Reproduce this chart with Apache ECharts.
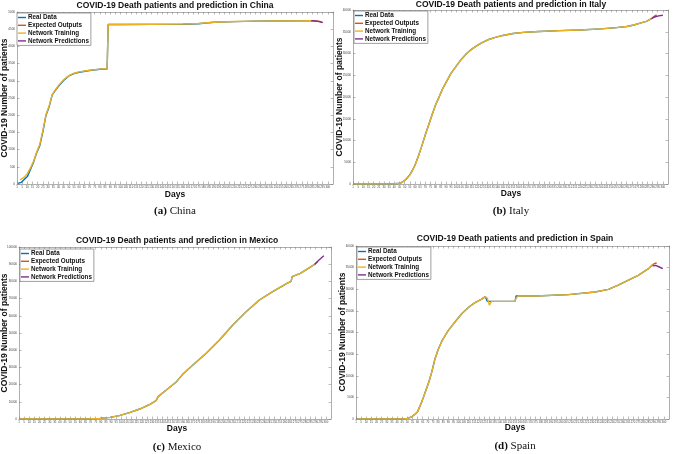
<!DOCTYPE html>
<html><head><meta charset="utf-8">
<script src="https://cdn.jsdelivr.net/npm/echarts@6/dist/echarts.min.js"></script>
<style>html,body{margin:0;padding:0;background:#fff}#c{width:675px;height:454px}</style>
</head><body><div id="c"></div>
<script>
// ---------- DATA ----------
const seriesNames = ['Real Data', 'Expected Outputs', 'Network Training', 'Network Predictions'];

// China
const chinaRealDays  = [1, 4, 7, 10, 13, 16, 19, 22, 25, 28, 31, 34, 37, 40, 45, 50, 55, 60, 70, 80, 87, 88, 100, 130, 160, 175, 190, 210, 230, 250, 270, 284];
const chinaReal      = [17, 45, 130, 215, 425, 636, 910, 1115, 1520, 2000, 2240, 2590, 2720, 2840, 3010, 3140, 3210, 3250, 3300, 3335, 3345, 4635, 4635, 4640, 4645, 4660, 4700, 4720, 4735, 4740, 4742, 4745];
const chinaTrainDays = [3, 7, 10, 13, 16, 19, 22, 25, 28, 31, 34, 37, 40, 45, 50, 55, 60, 70, 80, 87, 88, 100, 130, 160, 175, 190, 210, 230, 250, 270, 284];
const chinaTrain     = [120, 200, 300, 470, 660, 930, 1150, 1560, 2020, 2270, 2600, 2740, 2860, 3030, 3150, 3220, 3260, 3305, 3340, 3350, 4640, 4638, 4642, 4648, 4665, 4700, 4722, 4736, 4740, 4742, 4745];
const chinaExpDays   = [284, 288, 292, 295];
const chinaExp       = [4745, 4742, 4725, 4700];
const chinaPredDays  = [284, 288, 292, 295];
const chinaPred      = [4745, 4740, 4720, 4690];

// Italy
const italyRealDays  = [1, 10, 20, 30, 35, 40, 44, 47, 50, 52, 55, 57, 60, 63, 66, 70, 73, 76, 80, 83, 87, 90, 95, 100, 105, 110, 115, 120, 125, 130, 137, 145, 155, 165, 180, 200, 220, 240, 255, 265, 272, 278, 284, 289];
const italyReal      = [0, 0, 0, 20, 40, 70, 100, 300, 800, 1270, 2100, 2900, 4300, 6200, 8300, 11300, 13400, 15500, 18200, 19800, 22000, 23300, 25500, 27100, 28700, 30000, 31000, 31800, 32500, 33100, 33650, 34150, 34600, 34850, 35050, 35250, 35400, 35650, 35950, 36200, 36550, 37000, 37400, 38000];
const italyTrainDays = italyRealDays;
const italyTrain     = italyReal;
const italyExpDays   = [289, 292, 294];
const italyExp       = [38000, 38600, 38900];
const italyPredDays  = [289, 292, 296, 300];
const italyPred      = [38000, 38400, 38650, 38800];

// Mexico
const mexicoRealDays  = [1, 20, 40, 60, 70, 79, 89, 98, 108, 118, 128, 134, 136, 144, 154, 160, 170, 183, 196, 209, 222, 235, 248, 262, 266, 267, 275, 284, 289];
const mexicoReal      = [0, 0, 0, 20, 150, 390, 970, 1940, 3680, 5800, 8530, 10660, 13000, 16860, 21700, 25970, 31400, 38180, 45930, 54650, 62400, 69190, 74030, 78900, 80000, 82800, 84700, 88000, 89900];
const mexicoTrainDays = mexicoRealDays;
const mexicoTrain     = mexicoReal;
const mexicoExpDays   = [289, 292];
const mexicoExp       = [89900, 91500];
const mexicoPredDays  = [289, 293, 298];
const mexicoPred      = [89900, 92300, 94960];

// Spain
const spainRealDays  = [1, 20, 40, 46, 50, 54, 57, 60, 64, 67, 71, 74, 77, 80, 84, 90, 97, 103, 110, 116, 122, 126, 127, 128, 150, 155, 156, 175, 207, 233, 246, 255, 265, 275, 285, 289];
const spainReal      = [0, 0, 0, 10, 150, 460, 1000, 1700, 3900, 5900, 8550, 11000, 13950, 16000, 18200, 20500, 22600, 24350, 25900, 26900, 27650, 28300, 28600, 27200, 27200, 27200, 28440, 28450, 28750, 29360, 29980, 30900, 32060, 33220, 34760, 35680];
const spainTrainDays = [1, 20, 40, 46, 50, 54, 57, 60, 64, 67, 71, 74, 77, 80, 84, 90, 97, 103, 110, 116, 122, 126, 127, 128, 130, 132, 150, 155, 156, 158, 175, 207, 233, 246, 255, 265, 275, 285, 289];
const spainTrain     = [0, 0, 0, 10, 150, 460, 1000, 1700, 3900, 5900, 8550, 11000, 13950, 16000, 18200, 20500, 22600, 24350, 25900, 26900, 27650, 28300, 28600, 27900, 26300, 27200, 27200, 27200, 28000, 28440, 28450, 28750, 29360, 29980, 30900, 32060, 33220, 34760, 35680];
const spainExpDays   = [289, 291, 293];
const spainExp       = [35680, 35950, 36070];
const spainPredDays  = [289, 292, 295, 299];
const spainPred      = [35400, 35500, 35200, 34760];

// axis settings (tick labels)
const yMax = [5000, 40000, 100000, 40000];
const yStep = [500, 5000, 10000, 5000];
const xMax = 305, xStep = 5;

const countries = ['China', 'Italy', 'Mexico', 'Spain'];
const captionTags = ['(a)', '(b)', '(c)', '(d)'];

// ---------- LAYOUT ----------
const grids = [
  {left: 17, top: 12, width: 316, height: 172},
  {left: 353, top: 10, width: 315, height: 174},
  {left: 19, top: 247, width: 312, height: 172},
  {left: 356, top: 246, width: 313, height: 173}
];
const titlePos = [[175, 6], [511, 5], [177, 240.5], [515, 239]];
const daysPos = [[175, 195], [511, 194], [177, 429], [515, 428]];
const ylabPos = [[5, 98], [340, 97], [5, 333], [343, 332]];
const capPos = [[175, 211], [511, 211], [177, 447], [515, 446]];
const legendPos = [[17, 13], [354, 11], [20, 249], [357, 247]];

const colors = ['#0072BD', '#D95319', '#EDB120', '#7E2F8E'];
const zip = (d, v) => d.map((x, i) => [x, v[i]]);
const sets = [
  [zip(chinaRealDays, chinaReal), zip(chinaExpDays, chinaExp), zip(chinaTrainDays, chinaTrain), zip(chinaPredDays, chinaPred)],
  [zip(italyRealDays, italyReal), zip(italyExpDays, italyExp), zip(italyTrainDays, italyTrain), zip(italyPredDays, italyPred)],
  [zip(mexicoRealDays, mexicoReal), zip(mexicoExpDays, mexicoExp), zip(mexicoTrainDays, mexicoTrain), zip(mexicoPredDays, mexicoPred)],
  [zip(spainRealDays, spainReal), zip(spainExpDays, spainExp), zip(spainTrainDays, spainTrain), zip(spainPredDays, spainPred)]
];

const boxColor = '#9a9a9a';
const xAxes = [], yAxes = [], series = [], legends = [], graphics = [];
for (let i = 0; i < 4; i++) {
  xAxes.push({
    gridIndex: i, type: 'value', min: 0, max: xMax, interval: xStep, position: 'bottom',
    axisLine: {show: true, onZero: false, lineStyle: {color: boxColor, width: 0.8}},
    axisTick: {show: true, inside: true, length: 2.5, lineStyle: {color: '#777', width: 0.5}},
    axisLabel: {show: true, fontSize: 2.8, color: '#444', margin: 2, showMaxLabel: false,
      fontFamily: 'Liberation Sans', formatter: v => (v === 0 ? '1' : String(v))},
    splitLine: {show: false}
  });
  xAxes.push({
    gridIndex: i, type: 'value', min: 0, max: xMax, interval: xStep, position: 'top',
    axisLine: {show: true, onZero: false, lineStyle: {color: boxColor, width: 0.8}},
    axisTick: {show: true, inside: true, length: 2.5, lineStyle: {color: '#777', width: 0.5}},
    axisLabel: {show: false}, splitLine: {show: false}
  });
  yAxes.push({
    gridIndex: i, type: 'value', min: 0, max: yMax[i], interval: yStep[i], position: 'left',
    axisLine: {show: true, onZero: false, lineStyle: {color: boxColor, width: 0.8}},
    axisTick: {show: true, inside: true, length: 2.5, lineStyle: {color: '#777', width: 0.5}},
    axisLabel: {show: true, fontSize: 3, color: '#444', margin: 2, fontFamily: 'Liberation Sans',
      formatter: v => String(v)},
    splitLine: {show: false}
  });
  yAxes.push({
    gridIndex: i, type: 'value', min: 0, max: yMax[i], interval: yStep[i], position: 'right',
    axisLine: {show: true, onZero: false, lineStyle: {color: boxColor, width: 0.8}},
    axisTick: {show: true, inside: true, length: 2.5, lineStyle: {color: '#777', width: 0.5}},
    axisLabel: {show: false}, splitLine: {show: false}
  });
  const order = [0, 2, 1, 3];
  order.forEach(k => {
    series.push({
      name: seriesNames[k], type: 'line', xAxisIndex: 2 * i, yAxisIndex: 2 * i,
      data: sets[i][k], showSymbol: false, smooth: false, z: 2 + k,
      lineStyle: {color: colors[k], width: 1.4}, itemStyle: {color: colors[k]}
    });
  });
  legends.push({
    orient: 'vertical', left: legendPos[i][0], top: legendPos[i][1], data: seriesNames,
    icon: 'rect', itemWidth: 8, itemHeight: 1.4, itemGap: 1.8, selectedMode: false,
    backgroundColor: '#fff', borderColor: '#777', borderWidth: 0.7, borderRadius: 0,
    padding: [1.5, 2, 1.5, 1],
    textStyle: {fontSize: 6.3, fontWeight: 'bold', color: '#111', fontFamily: 'Liberation Sans', padding: [0, 0, 0, -3]}
  });
  graphics.push({type: 'text', x: titlePos[i][0], y: titlePos[i][1], z: 10,
    style: {text: 'COVID-19 Death patients and prediction in ' + countries[i], fill: '#111',
      font: 'bold 8.5px "Liberation Sans"', align: 'center', verticalAlign: 'middle'}});
  graphics.push({type: 'text', x: daysPos[i][0], y: daysPos[i][1], z: 10,
    style: {text: 'Days', fill: '#111', font: 'bold 8.5px "Liberation Sans"', align: 'center', verticalAlign: 'middle'}});
  graphics.push({type: 'text', x: ylabPos[i][0], y: ylabPos[i][1], rotation: Math.PI / 2, z: 10,
    style: {text: 'COVID-19 Number of patients', fill: '#111', font: 'bold 8.5px "Liberation Sans"', align: 'center', verticalAlign: 'middle'}});
  graphics.push({type: 'text', x: capPos[i][0], y: capPos[i][1], z: 10,
    style: {text: '{b|' + captionTags[i] + '} ' + countries[i], fill: '#111', font: '11px "Liberation Serif"',
      align: 'center', verticalAlign: 'middle',
      rich: {b: {font: 'bold 11px "Liberation Serif"', fill: '#111'}}}});
}

const chart = echarts.init(document.getElementById('c'), null, {renderer: 'canvas'});
chart.setOption({
  animation: false,
  backgroundColor: '#fff',
  grid: grids.map(g => Object.assign({containLabel: false}, g)),
  xAxis: xAxes, yAxis: yAxes, series: series, legend: legends, graphic: graphics
});
</script></body></html>
